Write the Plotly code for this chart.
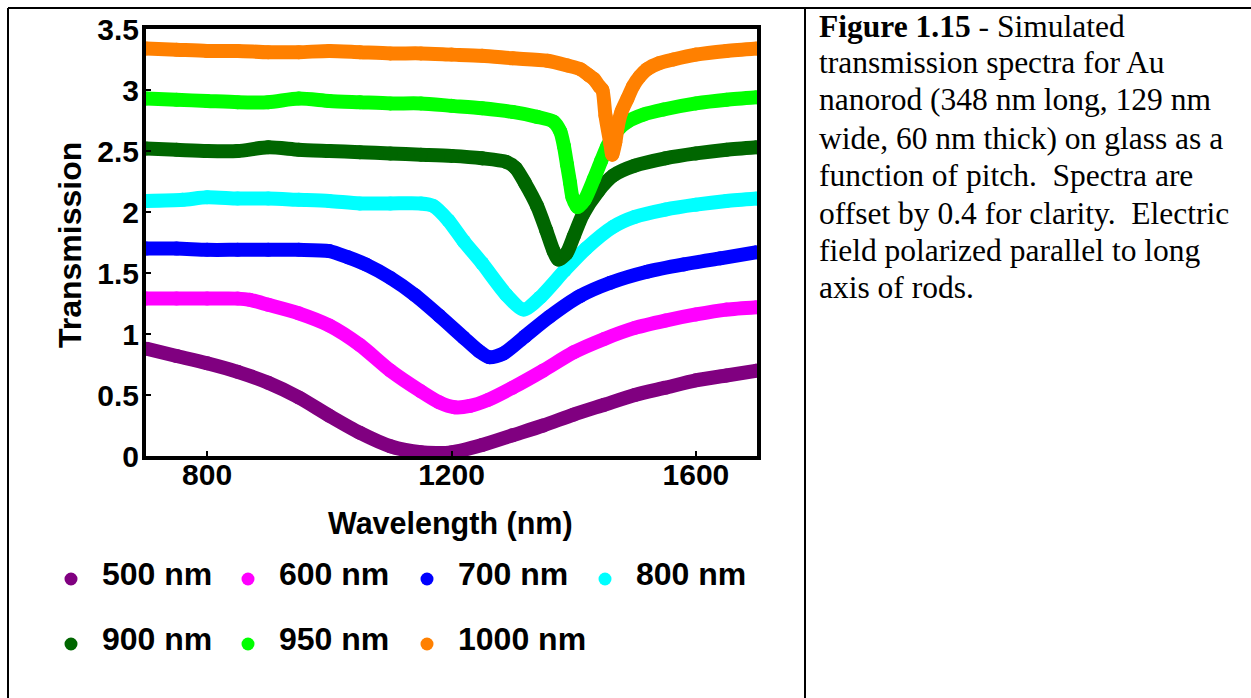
import plotly.graph_objects as go

# ---------------- data ----------------
pitch_labels = ["500 nm", "600 nm", "700 nm", "800 nm", "900 nm", "950 nm", "1000 nm"]
colors = ["#800080", "#FF00FF", "#0000FF", "#00FFFF", "#006600", "#00FF00", "#FF8000"]

wl_500 = [700, 750, 800, 850, 900, 950, 1000, 1050, 1100, 1150, 1200, 1250, 1300, 1350, 1400, 1450, 1500, 1550, 1600, 1650, 1700]
tr_500 = [0.88, 0.82, 0.76, 0.69, 0.60, 0.48, 0.33, 0.19, 0.08, 0.03, 0.03, 0.09, 0.17, 0.25, 0.34, 0.42, 0.50, 0.56, 0.62, 0.66, 0.70]

wl_600 = [700, 750, 800, 850, 870, 900, 950, 1000, 1050, 1100, 1150, 1180, 1205, 1230, 1260, 1300, 1350, 1400, 1450, 1500, 1550, 1600, 1650, 1700]
tr_600 = [1.29, 1.29, 1.29, 1.29, 1.28, 1.24, 1.17, 1.07, 0.91, 0.70, 0.53, 0.44, 0.40, 0.41, 0.46, 0.56, 0.70, 0.85, 0.96, 1.05, 1.11, 1.16, 1.20, 1.22]

wl_700 = [700, 750, 800, 850, 900, 950, 1000, 1030, 1060, 1100, 1140, 1180, 1220, 1245, 1262, 1285, 1320, 1360, 1410, 1460, 1520, 1580, 1640, 1700]
tr_700 = [1.70, 1.70, 1.69, 1.69, 1.69, 1.69, 1.68, 1.63, 1.57, 1.46, 1.32, 1.15, 0.97, 0.86, 0.81, 0.84, 0.98, 1.14, 1.31, 1.42, 1.51, 1.57, 1.62, 1.67]

wl_800 = [700, 760, 800, 850, 900, 950, 1000, 1050, 1100, 1150, 1170, 1195, 1220, 1250, 1290, 1318, 1345, 1385, 1420, 1465, 1500, 1550, 1600, 1650, 1700]
tr_800 = [2.09, 2.10, 2.12, 2.11, 2.11, 2.10, 2.09, 2.07, 2.07, 2.07, 2.05, 1.93, 1.76, 1.58, 1.32, 1.20, 1.30, 1.52, 1.70, 1.88, 1.96, 2.02, 2.06, 2.09, 2.11]

wl_900 = [700, 750, 800, 850, 900, 950, 1000, 1050, 1100, 1150, 1200, 1250, 1290, 1305, 1320, 1340, 1355, 1367, 1375, 1388, 1400, 1415, 1440, 1465, 1500, 1550, 1600, 1650, 1700]
tr_900 = [2.52, 2.51, 2.50, 2.50, 2.53, 2.51, 2.50, 2.49, 2.48, 2.47, 2.46, 2.44, 2.41, 2.36, 2.24, 2.05, 1.85, 1.68, 1.61, 1.66, 1.80, 1.98, 2.17, 2.30, 2.38, 2.44, 2.48, 2.51, 2.53]

wl_950 = [700, 750, 800, 850, 900, 950, 1000, 1050, 1100, 1150, 1200, 1250, 1300, 1340, 1367, 1378, 1384, 1389, 1394, 1398, 1406, 1418, 1433, 1445, 1455, 1470, 1488, 1515, 1547, 1600, 1650, 1700]
tr_950 = [2.93, 2.92, 2.91, 2.90, 2.90, 2.93, 2.91, 2.90, 2.89, 2.89, 2.87, 2.85, 2.82, 2.78, 2.74, 2.66, 2.54, 2.39, 2.24, 2.12, 2.04, 2.10, 2.27, 2.42, 2.54, 2.66, 2.74, 2.80, 2.84, 2.89, 2.92, 2.94]

wl_1000 = [700, 750, 800, 850, 900, 950, 1000, 1050, 1100, 1150, 1200, 1250, 1300, 1357, 1390, 1411, 1425, 1433, 1442, 1447, 1452, 1460, 1463, 1468, 1472, 1478, 1488, 1497, 1508, 1520, 1540, 1563, 1600, 1650, 1700]
tr_1000 = [3.34, 3.33, 3.32, 3.32, 3.31, 3.31, 3.32, 3.31, 3.30, 3.30, 3.29, 3.28, 3.26, 3.24, 3.20, 3.17, 3.12, 3.09, 3.03, 3.00, 2.79, 2.56, 2.47, 2.57, 2.70, 2.82, 2.93, 3.03, 3.11, 3.17, 3.22, 3.25, 3.29, 3.32, 3.34]

wavelengths = [wl_500, wl_600, wl_700, wl_800, wl_900, wl_950, wl_1000]
transmissions = [tr_500, tr_600, tr_700, tr_800, tr_900, tr_950, tr_1000]

x_ticks = [800, 1200, 1600]
y_ticks = [0, 0.5, 1, 1.5, 2, 2.5, 3, 3.5]
y_tick_text = ["0", "0.5", "1", "1.5", "2", "2.5", "3", "3.5"]

caption_lines = [
    "<b>Figure 1.15</b> - Simulated",
    "transmission spectra for Au",
    "nanorod (348 nm long, 129 nm",
    "wide, 60 nm thick) on glass as a",
    "function of pitch. \u00a0Spectra are",
    "offset by 0.4 for clarity. \u00a0Electric",
    "field polarized parallel to long",
    "axis of rods.",
]

# ---------------- layout geometry ----------------
W, H = 1251, 698
L, R, T, B = 146, 757, 29, 456   # plot area in pixels


def px(x):
    return (x - L) / (R - L)


def py(y):
    return (B - y) / (B - T)


SANS = "Liberation Sans, Arial, sans-serif"
SERIF = "Liberation Serif, Times New Roman, serif"

fig = go.Figure()
for lab, col, xs, ys in zip(pitch_labels, colors, wavelengths, transmissions):
    fig.add_trace(go.Scatter(
        x=xs, y=ys, name=lab, mode="lines+markers",
        line=dict(color=col, width=14, shape="spline", smoothing=0.7),
        marker=dict(color=col, size=14, line=dict(width=0)),
        showlegend=False,
    ))

annotations = []
shapes = []

# axis titles
annotations.append(dict(text="<b>Transmission</b>", x=px(70), y=py(245), xref="paper", yref="paper",
                        textangle=-90, showarrow=False, xanchor="center", yanchor="middle",
                        font=dict(family=SANS, size=32, color="black")))
annotations.append(dict(text="<b>Wavelength (nm)</b>", x=px(450), y=py(523), xref="paper", yref="paper",
                        showarrow=False, xanchor="center", yanchor="middle",
                        font=dict(family=SANS, size=30.5, color="black")))

# legend (manual, two rows)
leg_marker_x = [71, 248, 427, 605, 71, 248, 427]
leg_row_y = [579, 579, 579, 579, 644, 644, 644]
for lab, col, mx, my in zip(pitch_labels, colors, leg_marker_x, leg_row_y):
    r = 6.5
    shapes.append(dict(type="circle", xref="paper", yref="paper",
                       x0=px(mx - r), x1=px(mx + r), y0=py(my + r), y1=py(my - r),
                       fillcolor=col, line=dict(width=0)))
    annotations.append(dict(text="<b>" + lab + "</b>", x=px(mx + 29), y=py(my - 5), xref="paper", yref="paper",
                            showarrow=False, xanchor="left", yanchor="middle",
                            font=dict(family=SANS, size=32, color="black")))

# caption, one annotation per line
cap_y = [27, 63, 100, 138, 175, 213, 250, 287]
for line, cy in zip(caption_lines, cap_y):
    annotations.append(dict(text=line, x=px(817), y=py(cy), xref="paper", yref="paper",
                            showarrow=False, xanchor="left", yanchor="middle", align="left",
                            font=dict(family=SERIF, size=31.5, color="black")))

# table borders
border = dict(color="black", width=2)
shapes.append(dict(type="line", xref="paper", yref="paper", x0=px(8), x1=px(1251), y0=py(8), y1=py(8), line=border))
shapes.append(dict(type="line", xref="paper", yref="paper", x0=px(8), x1=px(8), y0=py(8), y1=py(700), line=border))
shapes.append(dict(type="line", xref="paper", yref="paper", x0=px(805), x1=px(805), y0=py(8), y1=py(700), line=border))

axis_common = dict(showgrid=False, zeroline=False, showline=True, linecolor="black", linewidth=4,
                   mirror=True, ticks="inside", ticklen=5, tickwidth=2, tickcolor="black",
                   tickfont=dict(family=SANS, size=30, color="black", weight="bold"))

fig.update_layout(
    width=W, height=H,
    margin=dict(l=L, r=W - R, t=T, b=H - B, pad=0),
    paper_bgcolor="white", plot_bgcolor="white",
    xaxis=dict(range=[700, 1700], tickvals=x_ticks, ticktext=[str(v) for v in x_ticks],
               ticklabelstandoff=-11, **axis_common),
    yaxis=dict(range=[0, 3.5], tickvals=y_ticks, ticktext=y_tick_text,
               ticklabelstandoff=-3, **axis_common),
    annotations=annotations, shapes=shapes, showlegend=False,
)

fig.write_html("out.html")
